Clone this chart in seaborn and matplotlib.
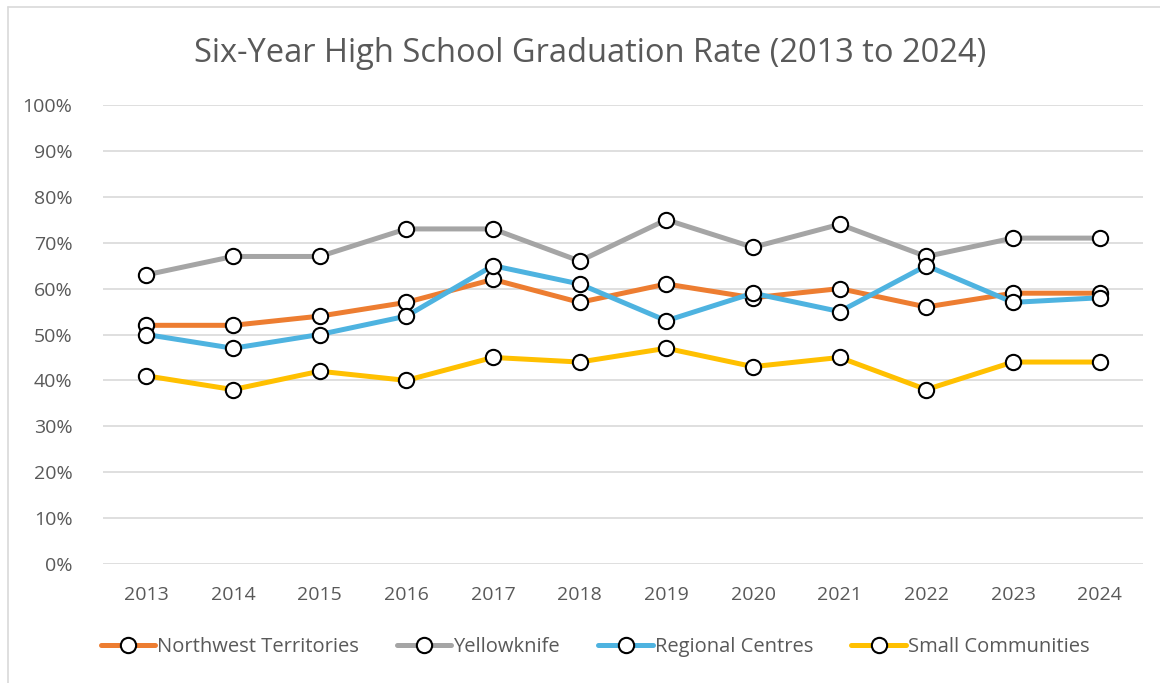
import matplotlib
matplotlib.use("Agg")
import matplotlib.pyplot as plt
import seaborn as sns
import pandas as pd
from matplotlib.lines import Line2D
from matplotlib.ticker import FuncFormatter

years = ["2013", "2014", "2015", "2016", "2017", "2018", "2019", "2020", "2021", "2022", "2023", "2024"]
nwt = [52, 52, 54, 57, 62, 57, 61, 58, 60, 56, 59, 59]
yellowknife = [63, 67, 67, 73, 73, 66, 75, 69, 74, 67, 71, 71]
regional = [50, 47, 50, 54, 65, 61, 53, 59, 55, 65, 57, 58]
small = [41, 38, 42, 40, 45, 44, 47, 43, 45, 38, 44, 44]
series_names = ["Northwest Territories", "Yellowknife", "Regional Centres", "Small Communities"]
colors = ["#ED7D31", "#A5A5A5", "#4EB3E0", "#FFC000"]

rows = []
for name, vals in zip(series_names, [nwt, yellowknife, regional, small]):
    for i, (y, v) in enumerate(zip(years, vals)):
        rows.append({"idx": i, "year": y, "series": name, "value": v})
df = pd.DataFrame(rows)

sns.set_theme(style="white")
plt.rcParams['font.family'] = ['Open Sans', 'DejaVu Sans']
text_color = "#595959"

fig = plt.figure(figsize=(11.6, 6.83), dpi=100)
ax = fig.add_axes([103/1160, 1-564/683, (1143-103)/1160, (564-105)/683])

sns.lineplot(data=df, x="idx", y="value", hue="series", hue_order=series_names,
             palette=colors, linewidth=3.6, marker="o", markersize=11,
             markerfacecolor="white", markeredgecolor="black", markeredgewidth=1.5,
             ax=ax, legend=False, zorder=3)

ax.set_xlim(-0.5, len(years) - 0.5)
ax.set_ylim(0, 100)
ax.set_yticks(range(0, 101, 10))
ax.yaxis.set_major_formatter(FuncFormatter(lambda v, p: f"{int(v)}%"))
ax.set_xticks(range(len(years)))
ax.set_xticklabels(years)
ax.grid(axis="y", color="#D9D9D9", linewidth=1.2)
ax.grid(axis="x", visible=False)
for s in ax.spines.values():
    s.set_visible(False)
ax.tick_params(axis="both", length=0, labelsize=14, labelcolor=text_color)
ax.tick_params(axis="y", pad=22)
ax.tick_params(axis="x", pad=16)
ax.set_xlabel("")
ax.set_ylabel("")

fig.text(590/1160, 1 - 54/683, "Six-Year High School Graduation Rate (2013 to 2024)",
         ha="center", va="center", fontsize=23.5, color=text_color)

handles = [Line2D([0], [0], color=c, linewidth=3.6, marker="o", markersize=11,
                  markerfacecolor="white", markeredgecolor="black", markeredgewidth=1.5)
           for c in colors]
fig.legend(handles, series_names, loc="center", bbox_to_anchor=(595/1160, 1 - 647/683),
           ncol=4, frameon=False, fontsize=14.5, labelcolor=text_color,
           handlelength=2.7, handletextpad=0.1, columnspacing=1.9)

# chart border
fig.add_artist(Line2D([8/1160, 8/1160], [0, 1 - 7/683], color="#D9D9D9", linewidth=1.2,
                      transform=fig.transFigure))
fig.add_artist(Line2D([8/1160, 1], [1 - 7/683, 1 - 7/683], color="#D9D9D9", linewidth=1.2,
                      transform=fig.transFigure))

fig.savefig("out.png", dpi=100, facecolor="white")
